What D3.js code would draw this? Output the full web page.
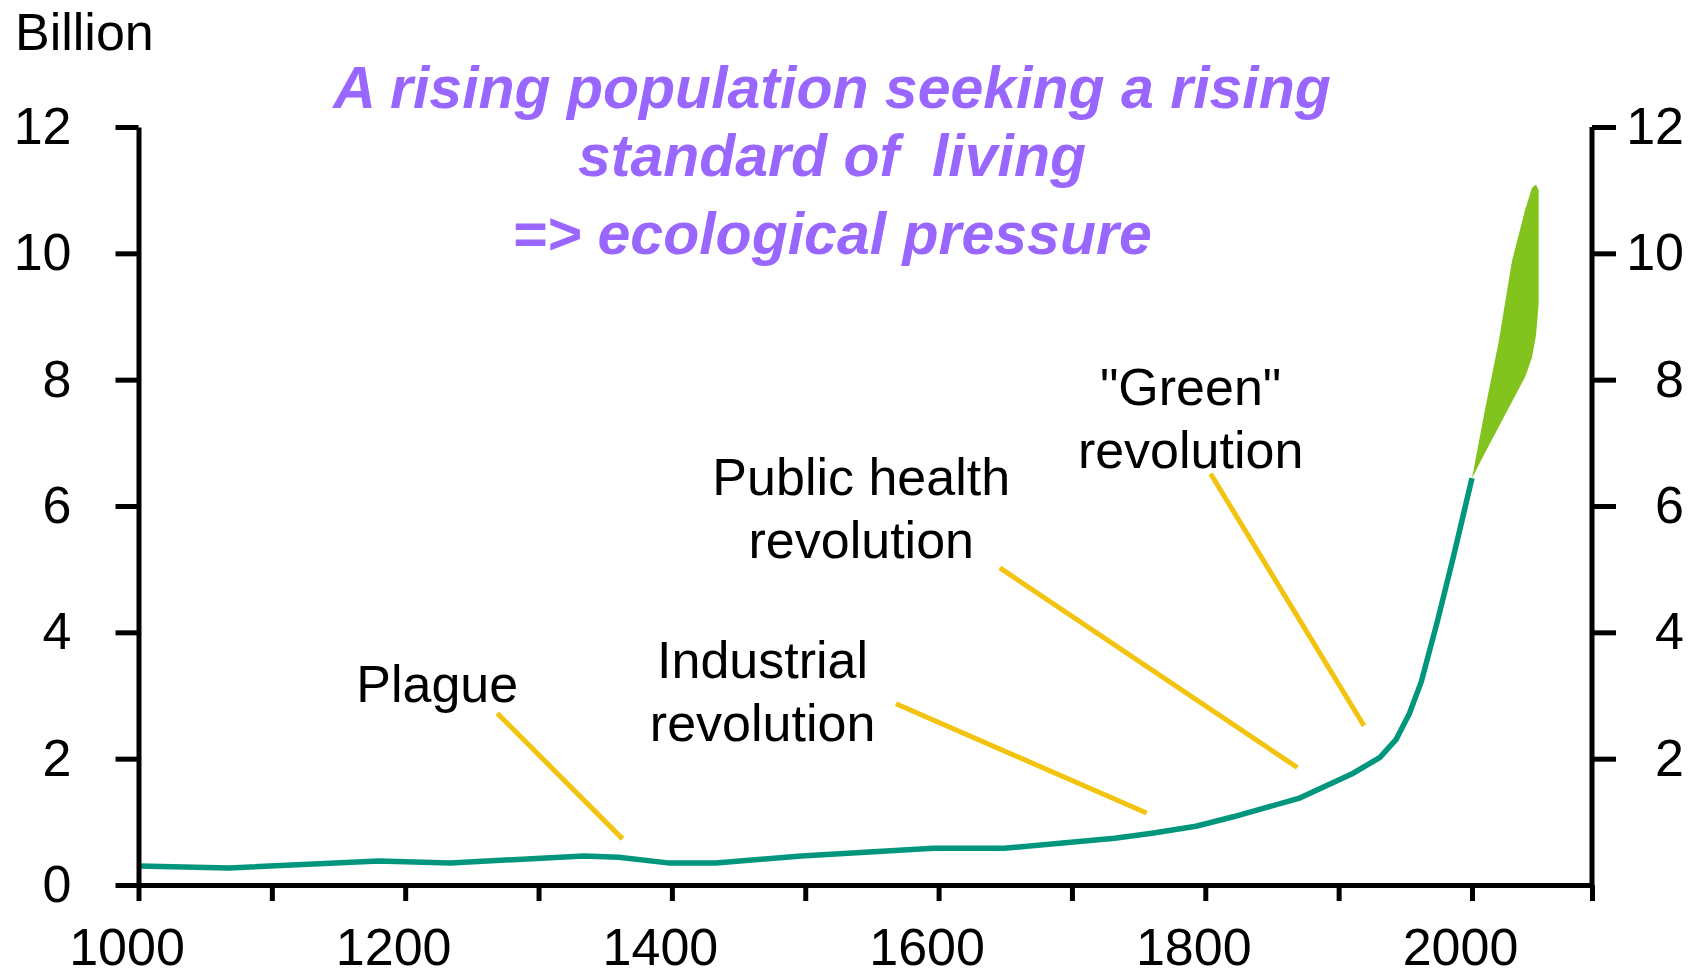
<html>
<script src="https://d3js.org/d3.v7.min.js"></script>
<style>
  body { margin: 0; background: white; }
  text { font-family: "Liberation Sans", Arial, Helvetica, sans-serif; }
</style>
<body>
<div id="chart"></div>
<script>

// world population, billions
var years = [1000, 1068, 1180, 1234, 1334, 1360, 1397, 1433, 1497, 1596, 1649, 1732, 1760,
             1793, 1821, 1870, 1911, 1931, 1943, 1953, 1962, 1974, 1986, 2000];
var population = [0.30, 0.27, 0.38, 0.35, 0.46, 0.44, 0.35, 0.35, 0.46, 0.58, 0.58, 0.74, 0.82,
                  0.93, 1.08, 1.37, 1.77, 2.02, 2.30, 2.71, 3.22, 4.17, 5.19, 6.44];

// projection band to 2050
var projYears = [2000, 2010, 2020, 2030, 2040, 2045, 2048, 2050];
var projHigh  = [6.44, 7.55, 8.60, 9.88, 10.70, 11.04, 11.09, 11.00];
var projLow   = [6.44, 6.85, 7.25, 7.65, 8.05, 8.35, 8.70, 9.20];

// annotations: label lines, label anchor (year, value), leader line from/to
var annLabels = [["Plague"], ["Industrial", "revolution"], ["Public health", "revolution"], ["\"Green\"", "revolution"]];
var annTextAt = [[1224, 2.89], [1468, 3.27], [1542, 6.18], [1789, 7.60]];
var annFrom   = [[1269, 2.72], [1568, 2.87], [1646, 5.02], [1804, 6.51]];
var annTo     = [[1363, 0.73], [1756, 1.14], [1869, 1.86], [1919, 2.52]];

var yTicks = [0, 2, 4, 6, 8, 10, 12];
var xTicks = [1000, 1100, 1200, 1300, 1400, 1500, 1600, 1700, 1800, 1900, 2000, 2090];
var xLabelled = [1000, 1200, 1400, 1600, 1800, 2000];

var titleLines = ["A rising population seeking a rising", "standard of  living", "=> ecological pressure"];

var width = 1697, height = 978;
var fontSize = 52;

var x = d3.scaleLinear().domain([1000, 2090]).range([138.5, 1592]);
var y = d3.scaleLinear().domain([0, 12]).range([885, 127]);

var svg = d3.select("#chart").append("svg")
    .attr("width", width)
    .attr("height", height);

svg.append("rect").attr("width", width).attr("height", height).attr("fill", "white");

// projection area
var area = d3.area()
    .x(function(d, i) { return x(projYears[i]); })
    .y0(function(d, i) { return y(projLow[i]); })
    .y1(function(d, i) { return y(projHigh[i]); });

svg.append("path")
    .datum(projYears)
    .attr("d", area)
    .attr("fill", "#82c31e");

// population line
var line = d3.line()
    .x(function(d, i) { return x(years[i]); })
    .y(function(d, i) { return y(population[i]); });

svg.append("path")
    .datum(years)
    .attr("d", line)
    .attr("fill", "none")
    .attr("stroke", "#00967d")
    .attr("stroke-width", 5.5)
    .attr("stroke-linejoin", "round");

// leader lines
svg.append("g").selectAll("line")
    .data(annFrom)
    .enter()
    .append("line")
    .attr("x1", function(d) { return x(d[0]); })
    .attr("y1", function(d) { return y(d[1]); })
    .attr("x2", function(d, i) { return x(annTo[i][0]); })
    .attr("y2", function(d, i) { return y(annTo[i][1]); })
    .attr("stroke", "#f2c40f")
    .attr("stroke-width", 5);

// annotation labels
var ann = svg.append("g").selectAll("text")
    .data(annLabels)
    .enter()
    .append("text")
    .attr("x", function(d, i) { return x(annTextAt[i][0]); })
    .attr("y", function(d, i) { return y(annTextAt[i][1]); })
    .attr("text-anchor", "middle")
    .style("font-size", fontSize + "px")
    .style("fill", "black");

ann.selectAll("tspan")
    .data(function(d, i) { return d.map(function(s) { return {s: s, i: i}; }); })
    .enter()
    .append("tspan")
    .attr("x", function(d) { return x(annTextAt[d.i][0]); })
    .attr("dy", function(d, j) { return j == 0 ? 0 : 63; })
    .text(function(d) { return d.s; });

// left axis
var left = svg.append("g")
    .attr("transform", "translate(" + x(1000) + ",0)")
    .call(d3.axisLeft(y).tickValues(yTicks).tickSize(23).tickSizeOuter(0).tickPadding(44));

// right axis
var right = svg.append("g")
    .attr("transform", "translate(" + x(2090) + ",0)")
    .call(d3.axisRight(y).tickValues(yTicks.filter(function(v) { return v > 0; }))
          .tickSize(24).tickSizeOuter(0).tickPadding(0));
right.selectAll("text").attr("text-anchor", "end").attr("x", 92);
right.select(".domain").attr("d", "M0," + y(12) + "V" + y(0));

// bottom axis (labels kept inside the page edge)
var bottom = svg.append("g")
    .attr("transform", "translate(0," + y(0) + ")")
    .call(d3.axisBottom(x).tickValues(xTicks).tickSize(16).tickSizeOuter(0).tickPadding(27)
          .tickFormat(function(d) { return xLabelled.indexOf(d) >= 0 ? d : ""; }));
bottom.selectAll("text").attr("dx", -12);

[left, right, bottom].forEach(function(g) {
  g.selectAll("path, line").attr("stroke", "black").attr("stroke-width", 5);
  g.selectAll("text")
    .style("font-size", fontSize + "px")
    .style("font-family", "'Liberation Sans', Arial, Helvetica, sans-serif")
    .attr("fill", "black");
});

// unit label
svg.append("text")
    .attr("x", 15)
    .attr("y", 50)
    .style("font-size", fontSize + "px")
    .text("Billion");

// title
svg.append("g").selectAll("text")
    .data(titleLines)
    .enter()
    .append("text")
    .attr("x", 832)
    .attr("y", function(d, i) { return [108, 176, 254][i]; })
    .attr("text-anchor", "middle")
    .style("font-size", "59px")
    .style("font-weight", "bold")
    .style("font-style", "italic")
    .style("white-space", "pre")
    .style("fill", "#9966ff")
    .text(function(d) { return d; });

</script>
</body>
</html>
